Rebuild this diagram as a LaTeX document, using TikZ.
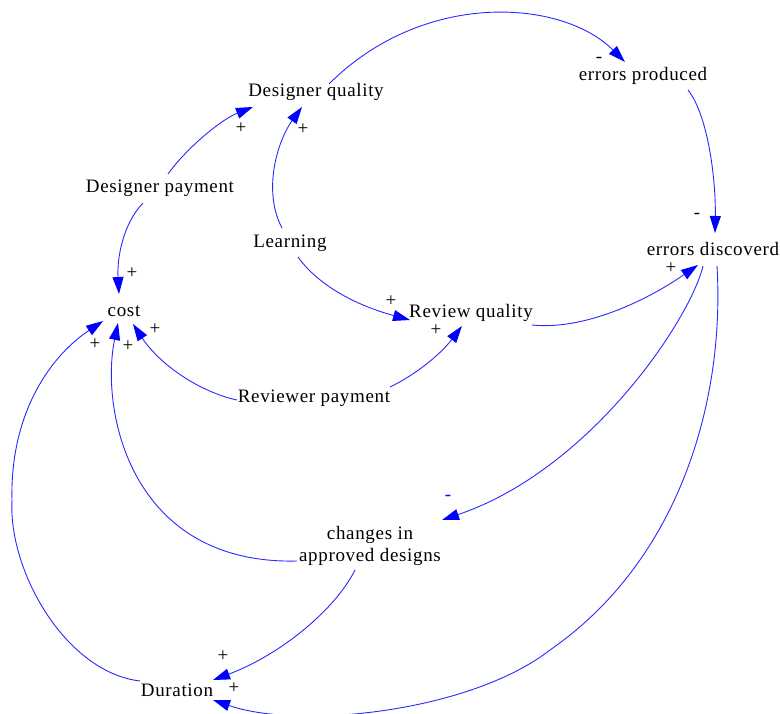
\documentclass[tikz,border=0pt]{standalone}
\usepackage{fontspec}
\setmainfont{Liberation Serif}[LetterSpace=3.5]
\newfontfamily\signfont{Liberation Serif}
\usetikzlibrary{arrows.meta}
\tikzset{
  var/.style={inner sep=0pt, font=\fontsize{19}{22}\selectfont, align=center},
  sgn/.style={inner sep=0pt, font=\signfont\fontsize{19}{20}\selectfont},
  link/.style={draw={rgb,255:red,40;green,40;blue,255}, line width=0.9pt, -{Triangle[length=17pt,width=11pt,fill=blue,color=blue]}},
}
\begin{document}
\begin{tikzpicture}[x=1pt,y=-1pt]
\useasboundingbox (0,0) rectangle (780,713);
% variables
\node[var] (dq) at (316,92) {Designer quality};
\node[var] (ep) at (643,76) {errors produced};
\node[var] (dp) at (160,188) {Designer payment};
\node[var] (lr) at (290,243) {Learning};
\node[var] (ed) at (713,249) {errors discoverd};
\node[var] (cost) at (124,311) {cost};
\node[var] (rq) at (471,313) {Review quality};
\node[var] (rp) at (314,398) {Reviewer payment};
\node[var] (ch) at (370,546) {changes in\\approved designs};
\node[var] (du) at (177,690) {Duration};
% links
\draw[link] ([shift={(13,-8)}]dq.center) .. controls (423.5,-10.5) and (562,-1) .. ([shift={(-18,-14)}]ep.center);
\draw[link] ([shift={(45,14)}]ep.center) .. controls (708,115) and (716,180) .. ([shift={(2,-16)}]ed.center);
\draw[link] ([shift={(8,-14)}]dp.center) .. controls (185,150) and (220,120) .. ([shift={(-63,15)}]dq.center);
\draw[link] ([shift={(-8,-15)}]lr.center) .. controls (262,190) and (278,140) .. ([shift={(-14,15)}]dq.center);
\draw[link] ([shift={(-17,15)}]dp.center) .. controls (122,225) and (117,260) .. ([shift={(-5,-17)}]cost.center);
\draw[link] ([shift={(8,14)}]lr.center) .. controls (318,285) and (355,305) .. ([shift={(-61,7)}]rq.center);
\draw[link] ([shift={(61,12)}]rq.center) .. controls (580,330) and (640,305) .. ([shift={(-15,16)}]ed.center);
\draw[link] ([shift={(76,-11)}]rp.center) .. controls (415,375) and (440,355) .. ([shift={(-9,13)}]rq.center);
\draw[link] ([shift={(-77,2)}]rp.center) .. controls (200,392) and (160,365) .. ([shift={(9,13)}]cost.center);
\draw[link] ([shift={(-73,15)}]ch.center) .. controls (130,565) and (100,410) .. ([shift={(-6,12)}]cost.center);
\draw[link] ([shift={(-37,-9)}]du.center) .. controls (65,672) and (8,570) .. (12,500) .. controls (10,420) and (45,360) .. ([shift={(-21,10)}]cost.center);
\draw[link] ([shift={(-10,17)}]ed.center) .. controls (690,320) and (590,470) .. ([shift={(72,-26)}]ch.center);
\draw[link] ([shift={(4,17)}]ed.center) .. controls (725,400) and (680,560) .. (550,650) .. controls (470,712) and (300,730) .. ([shift={(36,10)}]du.center);
\draw[link] ([shift={(-15,24)}]ch.center) .. controls (335,610) and (280,655) .. ([shift={(36,-10)}]du.center);
% polarity signs
\node[sgn] (s1) at (599,60) {-};
\node[sgn] (s2) at (697,216) {-};
\node[sgn] (s3) at (241,128) {+};
\node[sgn] (s4) at (303,129) {+};
\node[sgn] (s5) at (132,273) {+};
\node[sgn] (s6) at (391,301) {+};
\node[sgn] (s7) at (671,268) {+};
\node[sgn] (s8) at (436,330) {+};
\node[sgn] (s9) at (155,329) {+};
\node[sgn] (s10) at (128,346) {+};
\node[sgn] (s11) at (95,344) {+};
\node[sgn, text=blue] (s12) at (448,498) {-};
\node[sgn] (s13) at (234,688) {+};
\node[sgn] (s14) at (223,656) {+};
\end{tikzpicture}
\end{document}
